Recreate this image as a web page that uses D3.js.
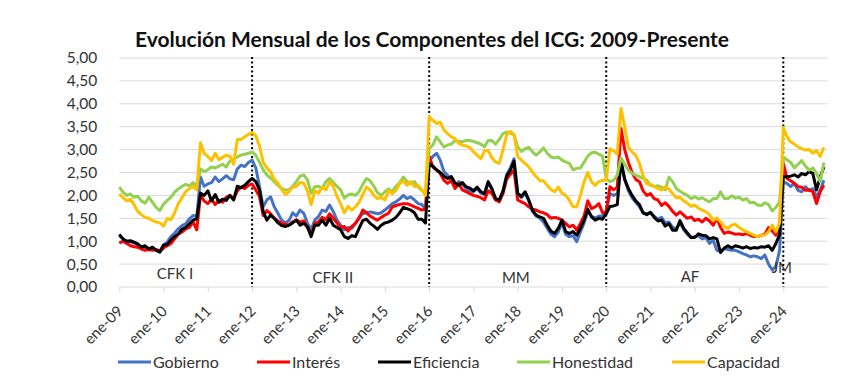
<!DOCTYPE html>
<html>
<head>
<meta charset="utf-8">
<script src="https://cdn.jsdelivr.net/npm/d3@7"></script>
<style>
  body { margin: 0; background: #fff; }
  svg { display: block; font-family: Lato, "Open Sans", sans-serif; }
</style>
</head>
<body>
<svg id="chart" width="862" height="380"></svg>
<script>
// ene-09 .. dic-24, one value per month (192 months)
const tickLabels = ["ene-09", "ene-10", "ene-11", "ene-12", "ene-13", "ene-14", "ene-15", "ene-16",
  "ene-17", "ene-18", "ene-19", "ene-20", "ene-21", "ene-22", "ene-23", "ene-24"];
const yTicks = [0, 0.5, 1, 1.5, 2, 2.5, 3, 3.5, 4, 4.5, 5];
const periods = ["CFK I", "CFK II", "MM", "AF", "JM"];
const govChanges = [36, 84, 132, 180]; // month index of ene-12, ene-16, ene-20, ene-24

const gobierno = [
  1.12, 1.05, 1.00, 0.98, 0.96, 0.92, 0.88, 0.86, 0.84, 0.85, 0.80, 0.78,
  0.92, 0.98, 1.10, 1.18, 1.27, 1.34, 1.38, 1.49, 1.56, 1.54, 2.40, 2.20,
  2.25, 2.28, 2.40, 2.30, 2.36, 2.43, 2.36, 2.34, 2.58, 2.66, 2.63, 2.72,
  2.77, 2.60, 2.20, 1.75, 1.90, 1.97, 1.75, 1.61, 1.46, 1.40, 1.45, 1.62,
  1.55, 1.68, 1.61, 1.39, 1.25, 1.46, 1.54, 1.68, 1.65, 1.79, 1.65, 1.46,
  1.35, 1.25, 1.30, 1.28, 1.39, 1.52, 1.60, 1.62, 1.64, 1.62, 1.60, 1.62,
  1.68, 1.75, 1.82, 1.86, 1.92, 2.00, 1.93, 1.97, 1.90, 1.82, 1.80, 1.70,
  2.75, 2.85, 2.92, 2.77, 2.52, 2.44, 2.33, 2.20, 2.30, 2.25, 2.15, 2.10,
  2.08, 2.15, 2.05, 2.02, 2.28, 2.12, 1.90, 1.88, 2.10, 2.45, 2.60, 2.80,
  2.05, 1.95, 2.05, 1.88, 1.65, 1.55, 1.50, 1.42, 1.28, 1.15, 1.10, 1.20,
  1.40, 1.15, 1.10, 1.12, 0.99, 1.20, 1.40, 1.65, 1.55, 1.50, 1.55, 1.55,
  1.65, 2.04, 2.00, 2.04, 2.70, 2.35, 2.10, 1.95, 1.85, 1.75, 1.62, 1.60,
  1.62, 1.55, 1.48, 1.52, 1.40, 1.42, 1.30, 1.28, 1.40, 1.25, 1.15, 1.08,
  1.10, 1.12, 1.05, 1.08, 0.95, 1.02, 0.80, 0.78, 0.84, 0.82, 0.80, 0.80,
  0.77, 0.73, 0.70, 0.66, 0.68, 0.66, 0.62, 0.70, 0.50, 0.37, 0.45, 0.80,
  2.30, 2.26, 2.19, 2.26, 2.11, 2.08, 2.19, 2.11, 2.15, 1.97, 2.11, 2.33
];
const interes = [
  0.96, 1.00, 0.95, 0.90, 0.88, 0.87, 0.83, 0.80, 0.82, 0.80, 0.82, 0.78,
  0.85, 0.90, 0.95, 1.05, 1.15, 1.20, 1.27, 1.30, 1.42, 1.25, 2.00, 1.88,
  1.82, 1.92, 1.80, 1.90, 1.85, 1.96, 2.00, 1.92, 2.10, 2.18, 2.15, 2.22,
  2.25, 2.12, 1.98, 1.56, 1.67, 1.60, 1.50, 1.44, 1.39, 1.37, 1.35, 1.42,
  1.46, 1.42, 1.44, 1.30, 1.14, 1.39, 1.42, 1.52, 1.47, 1.60, 1.50, 1.40,
  1.30, 1.32, 1.22, 1.32, 1.39, 1.50, 1.68, 1.62, 1.55, 1.50, 1.46, 1.52,
  1.57, 1.61, 1.75, 1.78, 1.80, 1.82, 1.82, 1.79, 1.75, 1.72, 1.68, 1.70,
  2.85, 2.62, 2.55, 2.48, 2.33, 2.26, 2.33, 2.15, 2.26, 2.12, 2.08, 2.04,
  2.00, 1.98, 1.95, 1.90, 2.10, 2.04, 1.90, 1.86, 2.04, 2.35, 2.46, 2.55,
  1.90, 1.86, 1.82, 1.75, 1.70, 1.68, 1.64, 1.62, 1.58, 1.50, 1.52, 1.50,
  1.46, 1.39, 1.31, 1.35, 1.24, 1.39, 1.55, 1.88, 1.71, 1.75, 1.82, 1.62,
  1.64, 2.19, 2.12, 2.18, 3.46, 3.00, 2.72, 2.50, 2.35, 2.30, 2.10, 2.00,
  2.04, 1.93, 1.90, 1.78, 1.84, 1.76, 1.65, 1.57, 1.64, 1.57, 1.50, 1.53,
  1.45, 1.48, 1.42, 1.50, 1.44, 1.35, 1.50, 1.30, 1.17, 1.20, 1.18, 1.15,
  1.16, 1.14, 1.17, 1.13, 1.10, 1.10, 1.13, 1.15, 1.30, 1.22, 1.13, 1.32,
  2.70, 2.37, 2.32, 2.26, 2.19, 2.18, 2.11, 2.12, 2.08, 1.82, 2.08, 2.22
];
const eficiencia = [
  1.15, 1.05, 1.00, 1.01, 0.98, 0.94, 0.87, 0.90, 0.83, 0.87, 0.80, 0.76,
  0.92, 0.93, 1.03, 1.10, 1.16, 1.26, 1.30, 1.38, 1.46, 1.49, 2.05, 2.00,
  2.10, 1.88, 2.02, 1.85, 1.92, 1.89, 2.00, 1.90, 2.20, 2.17, 2.22, 2.30,
  2.37, 2.30, 2.12, 1.65, 1.46, 1.57, 1.50, 1.40, 1.34, 1.32, 1.35, 1.40,
  1.46, 1.35, 1.39, 1.32, 1.10, 1.35, 1.35, 1.46, 1.35, 1.50, 1.35, 1.30,
  1.25, 1.10, 1.06, 1.12, 1.10, 1.28, 1.45, 1.48, 1.39, 1.33, 1.26, 1.35,
  1.40, 1.42, 1.46, 1.52, 1.62, 1.74, 1.71, 1.68, 1.62, 1.48, 1.48, 1.40,
  2.70, 2.64, 2.56, 2.50, 2.42, 2.37, 2.41, 2.27, 2.22, 2.28, 2.19, 2.16,
  2.10, 2.18, 2.08, 2.04, 2.30, 2.15, 1.93, 1.90, 2.08, 2.42, 2.55, 2.75,
  2.04, 1.98, 2.08, 1.90, 1.68, 1.57, 1.53, 1.50, 1.35, 1.22, 1.17, 1.28,
  1.46, 1.21, 1.17, 1.21, 1.13, 1.28, 1.46, 1.70, 1.53, 1.46, 1.50, 1.48,
  1.60, 1.76, 1.77, 1.80, 2.77, 2.35, 2.15, 2.00, 1.88, 1.80, 1.62, 1.58,
  1.63, 1.52, 1.44, 1.46, 1.33, 1.38, 1.24, 1.24, 1.45, 1.28, 1.18, 1.08,
  1.08, 1.16, 1.13, 1.12, 1.05, 1.08, 1.05, 0.75, 0.85, 0.90, 0.85, 0.90,
  0.88, 0.85, 0.88, 0.84, 0.86, 0.85, 0.88, 0.87, 0.90, 0.80, 0.95, 1.15,
  2.42, 2.40, 2.42, 2.45, 2.40, 2.48, 2.45, 2.52, 2.48, 2.12, 2.40, 2.62
];
const honestidad = [
  2.18, 2.07, 2.00, 2.03, 1.96, 1.98, 1.88, 1.83, 1.96, 1.85, 1.74, 1.67,
  1.81, 1.89, 1.96, 2.07, 2.14, 2.20, 2.24, 2.21, 2.28, 2.20, 2.58, 2.52,
  2.56, 2.62, 2.60, 2.64, 2.68, 2.62, 2.75, 2.80, 2.84, 2.88, 2.90, 2.92,
  2.95, 2.88, 2.72, 2.56, 2.45, 2.38, 2.30, 2.22, 2.15, 2.12, 2.12, 2.20,
  2.30, 2.42, 2.45, 2.34, 2.05, 2.19, 2.20, 2.15, 2.30, 2.37, 2.28, 2.20,
  2.12, 1.94, 2.01, 2.03, 2.00, 2.08, 2.24, 2.37, 2.32, 2.20, 2.06, 2.00,
  2.08, 2.14, 2.08, 2.20, 2.28, 2.40, 2.30, 2.26, 2.30, 2.18, 2.11, 2.05,
  3.02, 3.10, 3.28, 3.17, 3.06, 3.10, 3.12, 3.20, 3.18, 3.17, 3.20, 3.20,
  3.18, 3.15, 3.12, 3.06, 3.20, 3.20, 3.12, 3.22, 3.35, 3.38, 3.36, 3.32,
  3.06, 2.96, 3.02, 3.05, 2.95, 2.88, 2.95, 3.04, 2.92, 2.84, 2.82, 2.84,
  2.77, 2.73, 2.70, 2.56, 2.59, 2.60, 2.72, 2.86, 2.93, 2.94, 2.90, 2.86,
  2.36, 2.30, 2.33, 2.45, 2.82, 2.68, 2.55, 2.48, 2.44, 2.41, 2.37, 2.33,
  2.22, 2.19, 2.21, 2.18, 2.12, 2.40, 2.30, 2.15, 2.09, 2.04, 2.00, 1.93,
  1.97, 1.92, 1.95, 1.90, 1.86, 1.93, 1.93, 2.08, 1.93, 1.93, 1.99, 1.94,
  1.96, 1.90, 1.93, 1.84, 1.85, 1.79, 1.78, 1.84, 1.80, 1.66, 1.74, 1.86,
  2.84, 2.78, 2.72, 2.60, 2.68, 2.76, 2.64, 2.55, 2.60, 2.48, 2.30, 2.72
];
const capacidad = [
  2.03, 1.95, 1.88, 1.92, 1.80, 1.65, 1.58, 1.52, 1.50, 1.45, 1.42, 1.40,
  1.33, 1.50, 1.47, 1.62, 1.82, 1.95, 2.08, 2.15, 2.20, 2.12, 3.15, 2.92,
  2.85, 2.76, 2.92, 2.78, 2.83, 2.88, 2.85, 2.68, 3.22, 3.22, 3.28, 3.33,
  3.38, 3.30, 3.08, 2.72, 2.60, 2.52, 2.35, 2.27, 2.13, 2.02, 2.08, 2.18,
  2.20, 2.28, 2.27, 2.10, 1.80, 2.10, 2.05, 2.18, 2.12, 2.30, 2.20, 1.98,
  1.82, 1.62, 1.76, 1.68, 1.75, 1.85, 2.02, 2.18, 2.12, 2.00, 1.93, 1.96,
  1.90, 2.10, 2.04, 2.11, 2.26, 2.32, 2.22, 2.30, 2.19, 2.22, 2.12, 2.00,
  3.72, 3.64, 3.57, 3.60, 3.43, 3.35, 3.28, 3.24, 3.13, 3.10, 3.08, 3.05,
  2.95, 2.88, 2.80, 2.97, 2.98, 2.82, 2.73, 2.70, 2.99, 3.32, 3.40, 3.33,
  2.85, 2.77, 2.70, 2.62, 2.51, 2.41, 2.32, 2.32, 2.22, 2.13, 2.08, 2.18,
  2.05, 2.00, 1.90, 1.75, 1.75, 2.00, 2.30, 2.50, 2.30, 2.22, 2.30, 2.33,
  2.33, 3.02, 2.97, 2.90, 3.90, 3.50, 3.05, 2.95, 2.88, 2.70, 2.42, 2.25,
  2.24, 2.20, 2.15, 2.12, 2.19, 2.14, 2.04, 1.95, 1.96, 1.88, 1.83, 1.76,
  1.79, 1.72, 1.68, 1.64, 1.58, 1.45, 1.50, 1.42, 1.32, 1.28, 1.35, 1.37,
  1.30, 1.25, 1.21, 1.17, 1.13, 1.10, 1.13, 1.14, 1.21, 1.35, 1.20, 1.40,
  3.48, 3.28, 3.17, 3.12, 3.06, 3.02, 2.99, 3.00, 2.92, 2.98, 2.85, 3.05
];

const series = [
  { name: "Gobierno", values: gobierno, color: "#4472C4" },
  { name: "Interés", values: interes, color: "#FF0000" },
  { name: "Eficiencia", values: eficiencia, color: "#000000" },
  { name: "Honestidad", values: honestidad, color: "#92D050" },
  { name: "Capacidad", values: capacidad, color: "#FFC000" }
];

const svg = d3.select("#chart");

const x = d3.scaleLinear().domain([0, 180]).range([119.3, 783.3]);
const y = d3.scaleLinear().domain([0, 5]).range([287, 58]);
const xEnd = x(192);

// Title
svg.append("text")
  .attr("x", 432).attr("y", 47)
  .attr("text-anchor", "middle")
  .attr("font-size", 21).attr("font-weight", "bold")
  .attr("fill", "#111")
  .text("Evolución Mensual de los Componentes del ICG: 2009-Presente");

// Grid lines
svg.append("g")
  .selectAll("line")
  .data(yTicks)
  .join("line")
  .attr("x1", x(0)).attr("x2", xEnd)
  .attr("y1", d => y(d)).attr("y2", d => y(d))
  .attr("stroke", "#d9d9d9").attr("stroke-width", 1);

// Y Axis
const yAxis = svg.append("g")
  .attr("transform", `translate(${x(0)},0)`)
  .call(d3.axisLeft(y).tickValues(yTicks).tickSize(0).tickPadding(22)
    .tickFormat(d => d.toFixed(2).replace(".", ",")));
yAxis.select(".domain").remove();
yAxis.selectAll("text").attr("font-size", 15.5).attr("font-family", "Lato").attr("fill", "#333");

// X Axis
const xAxis = svg.append("g")
  .attr("transform", `translate(0,${y(0)})`)
  .call(d3.axisBottom(x).tickValues(d3.range(0, 181, 12)).tickSize(5)
    .tickFormat((d, i) => tickLabels[i]));
xAxis.select(".domain").remove();
xAxis.selectAll("line").attr("stroke", "#d9d9d9");
xAxis.selectAll("text")
  .attr("x", null).attr("y", null).attr("dy", null)
  .attr("text-anchor", "end")
  .attr("transform", "translate(4,25) rotate(-45)")
  .attr("font-size", 15).attr("font-family", "Lato").attr("fill", "#333");

// Dotted lines at government changes
svg.append("g")
  .selectAll("line")
  .data(govChanges)
  .join("line")
  .attr("x1", d => x(d)).attr("x2", d => x(d))
  .attr("y1", y(5) - 1).attr("y2", y(0))
  .attr("stroke", "#000").attr("stroke-width", 2)
  .attr("stroke-dasharray", "2,2.5");

// Lines
const line = d3.line()
  .x((d, i) => x(i))
  .y(d => y(d));

svg.append("g")
  .selectAll("path")
  .data(series)
  .join("path")
  .attr("fill", "none")
  .attr("stroke", d => d.color)
  .attr("stroke-width", 3)
  .attr("stroke-linejoin", "round")
  .attr("d", d => line(d.values));

// Period labels (drawn over the lines)
const periodPos = [
  { at: 15.1, base: 279 }, { at: 57.9, base: 283 }, { at: 107.5, base: 283 },
  { at: 154.7, base: 282 }, { at: 179.6, base: 273 }
];
svg.append("g")
  .selectAll("text")
  .data(periods)
  .join("text")
  .attr("x", (d, i) => x(periodPos[i].at))
  .attr("y", (d, i) => periodPos[i].base)
  .attr("text-anchor", "middle")
  .attr("font-size", 15).attr("fill", "#333")
  .text(d => d);

// Legend
const legendX = [118, 257, 378, 517, 672];
const legend = svg.append("g")
  .selectAll("g")
  .data(series)
  .join("g")
  .attr("transform", (d, i) => `translate(${legendX[i]},362)`);
legend.append("line")
  .attr("x1", 0).attr("x2", 33)
  .attr("stroke", d => d.color).attr("stroke-width", 3);
legend.append("text")
  .attr("x", 35).attr("dy", "0.35em")
  .attr("font-size", 16).attr("fill", "#333")
  .text(d => d.name);
</script>
</body>
</html>
